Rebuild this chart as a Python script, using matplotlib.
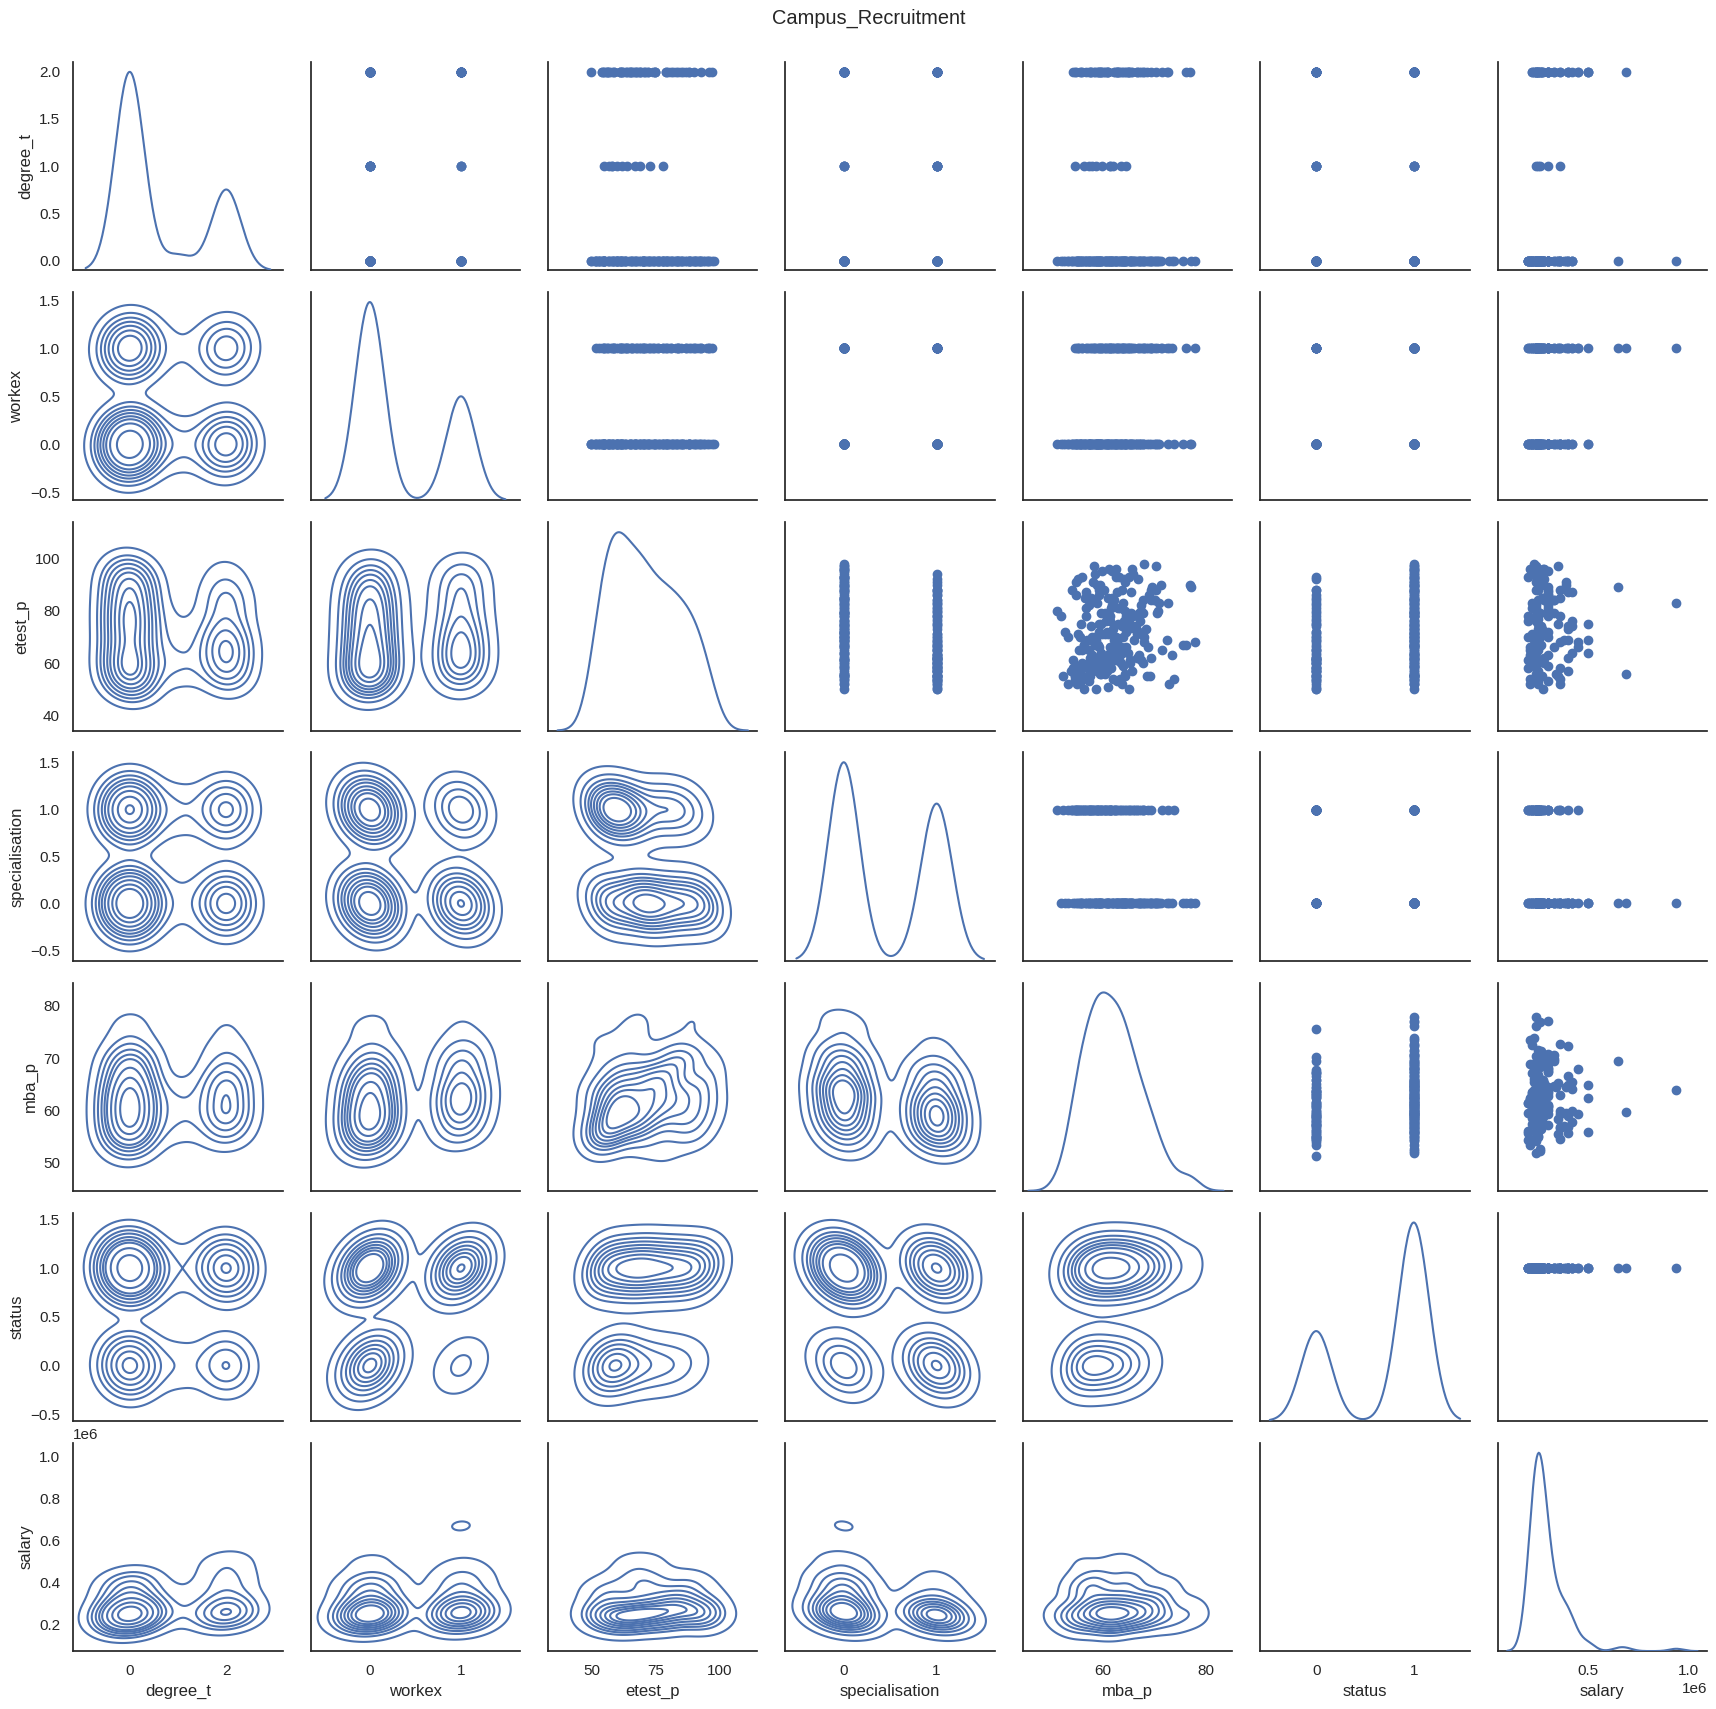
import warnings

import matplotlib
matplotlib.use("Agg")
import matplotlib.pyplot as plt
import numpy as np
import pandas as pd
import seaborn as sns

warnings.filterwarnings("ignore")

# -----------------------------
# Campus recruitment data (label encoded), rows grouped by
# (status, workex, specialisation, degree_t)
# -----------------------------
group_size = [30, 13, 1, 13, 6, 1, 36, 14, 1, 23, 8, 2,
              3, 2, 3, 1, 1, 13, 5, 2, 24, 10, 3]
group_status = [1, 1, 1, 1, 1, 1, 1, 1, 1, 1, 1, 1,
                0, 0, 0, 0, 0, 0, 0, 0, 0, 0, 0]
group_workex = [1, 1, 1, 1, 1, 1, 0, 0, 0, 0, 0, 0,
                1, 1, 1, 1, 1, 0, 0, 0, 0, 0, 0]
group_spec = [0, 0, 0, 1, 1, 1, 0, 0, 0, 1, 1, 1,
              0, 0, 1, 1, 1, 0, 0, 0, 1, 1, 1]
group_degree = [0, 2, 1, 0, 2, 1, 0, 2, 1, 0, 2, 1,
                0, 2, 0, 2, 1, 0, 2, 1, 0, 2, 1]

etest_p = [
    55, 91, 68, 78, 97, 71, 85, 70, 61, 89, 84, 93, 74, 62, 81, 73, 95, 92, 52, 87,
    61, 76, 90, 59, 83, 72, 79, 96, 63, 80,
    67, 84, 71, 56, 93, 64, 79, 66, 88, 54, 75, 69, 96,
    73,
    58, 69, 55, 84, 66, 90, 60, 78, 81, 63, 53, 70, 62,
    65, 56, 68, 74, 59, 87,
    64,
    67, 75, 52, 89, 81, 94, 69, 71, 83, 93, 56, 77, 98, 88, 72, 86, 54, 73, 91, 79,
    80, 66, 85, 95, 74, 78, 50, 84, 70, 70, 92, 90, 76, 55, 87, 96,
    68, 79, 62, 90, 69, 72, 55, 85, 66, 75, 97, 64, 82, 59,
    78,
    57, 67, 54, 82, 61, 86, 73, 52, 79, 78, 63, 70, 91, 60, 76, 55, 94, 60, 53, 65,
    88, 59, 62,
    67, 83, 57, 88, 71, 55, 80, 63,
    58, 67,
    64, 58, 76,
    61, 70,
    59, 66, 55,
    62,
    57,
    67, 55, 70, 60, 79, 85, 53, 88, 74, 72, 57, 82, 93,
    58, 65, 72, 61, 56,
    60, 69,
    61, 68, 53, 80, 62, 50, 88, 71, 55, 77, 60, 92, 51, 63, 84, 54, 75, 78, 57, 60,
    52, 65, 58, 83,
    62, 81, 54, 86, 57, 69, 50, 65, 61, 75,
    55, 62, 58,
]

mba_p = [
    69.1, 64.4, 77.9, 61.5, 58.4, 55.2, 61.8, 68.1, 65.4, 69.5, 70.2, 63.1, 57.8, 69.3,
    63.4, 68.5, 60.0, 66.8, 72.8, 56.9, 61.0, 64.1, 71.4, 59.3, 64.0, 64.6, 70.6, 62.6,
    73.5, 67.4,
    76.2, 69.4, 61.1, 59.7, 65.1, 64.9, 67.9, 59.4, 63.8, 54.6, 63.0, 72.4, 65.8,
    62.1,
    59.6, 66.1, 55.5, 62.3, 68.8, 59.0, 56.1, 65.6, 61.6, 67.1, 57.3, 63.9, 60.5,
    71.6, 60.4, 68.0, 65.0, 58.4, 62.8,
    61.4,
    58.5, 65.3, 55.0, 77.2, 63.0, 65.9, 57.1, 59.9, 70.9, 56.0, 64.4, 60.9, 68.1, 59.3,
    52.7, 68.9, 62.1, 64.9, 58.1, 60.5, 70.7, 63.5, 56.6, 61.9, 66.5, 51.9, 58.8, 69.9,
    62.6, 55.6, 64.1, 59.6, 67.3, 57.4, 65.5, 61.3,
    62.9, 65.6, 58.9, 76.9, 62.3, 60.8, 68.6, 57.8, 64.6, 55.8, 70.4, 59.8, 67.5, 64.0,
    64.5,
    59.0, 56.4, 73.9, 61.9, 54.4, 59.4, 66.3, 53.4, 59.8, 56.8, 63.4, 58.0, 54.9, 67.9,
    61.4, 52.3, 58.6, 65.3, 55.9, 62.4, 54.1, 60.6, 57.5,
    59.1, 72.6, 55.6, 60.3, 66.6, 57.6, 64.3, 61.0,
    59.9, 56.5,
    63.8, 56.1, 60.6,
    62.9, 58.5,
    55.0, 61.5, 57.1,
    59.9,
    58.0,
    75.6, 64.3, 53.3, 58.9, 67.1, 61.0, 55.6, 70.3, 63.8, 59.4, 65.8, 57.3, 62.6,
    54.4, 57.4, 67.1, 63.1, 59.5,
    63.6, 58.8,
    67.4, 58.4, 62.9, 51.2, 62.4, 56.5, 69.4, 60.4, 54.6, 64.5, 59.0, 55.2, 61.1, 58.0,
    67.8, 55.0, 59.8, 65.9, 54.0, 57.4, 63.8, 55.5, 61.6, 58.9,
    66.6, 56.9, 63.3, 54.9, 60.9, 57.8, 65.1, 56.0, 62.5, 59.3,
    54.6, 61.4, 57.3,
]

# salary (thousands) for the placed students only
salary_placed = [
    260, 390, 240, 200, 350, 250, 275, 300, 230, 650, 280, 260, 420, 240, 300, 270,
    300, 250, 360, 400, 240, 420, 265, 220, 940, 250, 330, 280, 210, 300,
    240, 330, 220, 690, 265, 500, 300, 450, 300, 360, 250, 400, 275,
    260,
    200, 230, 350, 250, 210, 270, 240, 250, 240, 220, 300, 260, 280,
    250, 240, 450, 265, 230, 300,
    240,
    260, 350, 250, 300, 220, 240, 380, 270, 300, 200, 340, 250, 230, 360, 260, 300,
    210, 400, 245, 250, 300, 220, 360, 260, 400, 240, 275, 330, 250, 200, 280, 390,
    240, 265, 420, 210,
    360, 250, 400, 260, 500, 300, 240, 270, 330, 500, 240, 420, 300, 230,
    300,
    250, 265, 230, 240, 200, 300, 250, 210, 260, 360, 220, 250, 240, 250, 200, 260,
    220, 280, 250, 210, 240, 300, 220,
    260, 220, 400, 250, 250, 270, 240, 300,
    360, 250,
]

# -----------------------------
# Build the table
# -----------------------------
n_rows = sum(group_size)
n_placed = len(salary_placed)
assert len(etest_p) == n_rows and len(mba_p) == n_rows

df = pd.DataFrame({
    "degree_t": np.repeat(group_degree, group_size),
    "workex": np.repeat(group_workex, group_size),
    "etest_p": etest_p,
    "specialisation": np.repeat(group_spec, group_size),
    "mba_p": mba_p,
    "status": np.repeat(group_status, group_size),
    "salary": list(np.array(salary_placed) * 1000.0) + [np.nan] * (n_rows - n_placed),
})

# -----------------------------
# Pair grid
# -----------------------------
sns.set_theme(style="white")
plt.rcParams["font.family"] = ["Liberation Sans", "DejaVu Sans"]

g = sns.PairGrid(df, diag_sharey=False)
g.map_upper(plt.scatter)
g.map_lower(sns.kdeplot)
g.map_diag(sns.kdeplot)

g.fig.set_size_inches(17.16, 17.09)
g.fig.subplots_adjust(left=0.0427, right=0.9948, top=0.9637, bottom=0.0339,
                      wspace=0.1337, hspace=0.105)
g.fig.suptitle("Campus_Recruitment", x=0.506, y=0.9895, va="center")

g.fig.savefig("out.png", dpi=100)
